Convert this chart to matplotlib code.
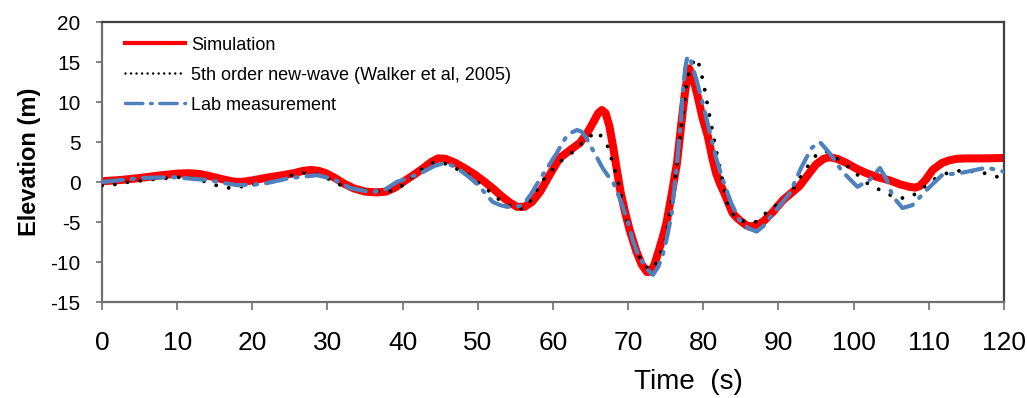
import matplotlib
matplotlib.use("Agg")
import matplotlib.pyplot as plt
from matplotlib.lines import Line2D

plt.rcParams["axes.unicode_minus"] = False

# Simulated free-surface elevation
sim_t = [0, 2.5, 5, 7.5, 10, 11.5, 13, 14.5, 16, 17.5, 18.5, 20, 22, 24, 25.5, 26.8,
         27.8, 28.8, 29.8, 31, 32.2, 33.5, 35, 36.5, 37.8, 39, 40.2, 41.5, 42.7,
         43.8, 44.7, 45.7, 47, 48.3, 49.5, 50.8, 52, 53.2, 54.3, 55.2, 56.2, 57.2,
         58.3, 59.5, 60.9, 62.3, 63.6, 64.6, 65.5, 66.0, 66.5, 67.0, 67.5, 68.0,
         68.5, 69.0, 69.6, 70.2, 71.1, 71.8, 72.5, 73.0, 73.5, 74.1, 74.6, 75.1,
         75.8, 76.5, 77.1, 77.6, 78.1, 78.6, 79.2, 79.9, 80.6, 81.2, 81.7, 82.3,
         82.8, 83.4, 83.9, 84.5, 85.0, 85.7, 86.2, 87.0, 87.9, 89.2, 90.6, 91.8,
         92.8, 94.0, 95.0, 96.0, 96.8, 97.8, 99.0, 100.3, 101.7, 103.2, 104.8,
         106.2, 107.4, 108.2, 108.8, 109.6, 110.5, 111.2, 111.8, 112.7, 113.7,
         115, 117, 120]
sim_y = [0.1, 0.25, 0.5, 0.8, 1.05, 1.1, 1.0, 0.7, 0.35, 0.05, 0.0, 0.2, 0.55, 0.85, 1.1, 1.4,
         1.5, 1.4, 1.1, 0.5, -0.2, -0.8, -1.2, -1.3, -1.2, -0.7, 0.1, 0.9, 1.7,
         2.5, 2.95, 2.9, 2.4, 1.7, 1.0, 0.1, -0.8, -1.8, -2.6, -3.1, -3.1, -2.5,
         -1.2, 0.8, 3.0, 4.0, 4.9, 6.2, 7.7, 8.6, 9.0, 8.6, 7.0, 4.4,
         1.5, -1.3, -3.8, -6.0, -8.7, -10.3, -11.25, -11.2, -10.3, -8.5, -6.9, -5.1,
         -1.5, 2.4, 7.5, 11.5, 14.2, 13.2, 10.9, 8.0, 5.7, 3.0, 1.1, -0.4,
         -1.4, -2.8, -3.9, -4.5, -4.9, -5.4, -5.6, -5.4, -5.0, -3.8, -2.25, -1.3,
         -0.5, 1.0, 2.2, 2.9, 3.1, 2.9, 2.4, 1.7, 1.1, 0.6, 0.2,
         -0.3, -0.6, -0.7, -0.5, 0.3, 1.5, 2.0, 2.4, 2.7, 2.9,
         2.95, 2.95, 3.0]

# 5th order new-wave (Walker et al, 2005)
nw_t = [0, 2.4, 3.5, 7, 10.4, 11.7, 14, 16, 17.4, 19.7, 23.3, 25.4, 27.7, 29.9, 32,
        34.3, 37.9, 39, 40, 42.7, 44, 45.2, 46.3, 48.5, 51.3, 52.9, 55.3, 56.5,
        58.7, 60.9, 62.7, 64.5, 66, 67.3, 68.5, 69.8, 71.1, 72.6, 73.2, 73.8, 74.9,
        76.2, 77.3, 77.8, 78.5, 79.2, 80.0, 80.6, 81.7, 83.3, 84.5, 86.8, 88.8,
        91.5, 93.2, 95.2, 96.4, 97.7, 99.5, 101.7, 103.9, 105.7, 107.2, 108.4,
        110.5, 112.4, 114.1, 116.3, 118.5, 120]
nw_y = [-0.45, -0.25, 0.0, 0.35, 0.6, 0.5, 0.0, -0.7, -0.75, -0.4, 0.1, 0.9, 1.25, 0.5, -0.5,
        -1.0, -1.25, -1.0, -0.4, 1.75, 2.4, 2.5, 2.0, 1.1, -1.0, -2.25, -3.5, -3.1,
        0.25, 2.5, 3.8, 5.5, 6.3, 4.4, 0.7, -4.75, -8.9, -10.75, -11.0, -10.0, -7.6,
        -0.1, 8.6, 12.75, 14.8, 15.5, 12.5, 9.4, 4.0, -3.1, -4.75, -5.1, -3.5,
        -1.6, 1.1, 3.6, 3.8, 3.0, 1.75, -0.1, -1.2, -2.0, -2.0, -1.4,
        0.25, 1.1, 1.4, 1.3, 0.9, 0.25]

# Lab measurement
lab_t = [0, 5, 9.5, 14, 18, 21.4, 25, 28.6, 30.7, 33, 35.6, 37.4, 39.2, 41, 42.7,
         44.2, 45.3, 46.5, 47.6, 49.0, 50.3, 51.2, 52, 53.0, 53.9, 55.0, 56, 57.1,
         58.2, 59.4, 60.5, 61.2, 61.8, 62.5, 63.2, 63.8, 64.5, 65.3, 66.0, 66.6,
         67.3, 68, 68.6, 69.3, 70.0, 70.6, 71.2, 71.9, 72.6, 73.3, 74.0, 74.6,
         75.2, 75.8, 76.5, 77.0, 77.3, 77.6, 77.9, 78.3, 78.7, 79.1, 80.0, 80.9,
         81.7, 82.6, 83.7, 84.8, 86.0, 87.1, 88.0, 88.8, 90.2, 91.5, 93, 94.4,
         95.5, 96.8, 98.5, 100.5, 102.1, 103.5, 104.4, 105.2, 106.5, 107.8, 109.7,
         111.8, 114.1, 117.7, 120]
lab_y = [0.0, 0.5, 0.6, 0.25, -0.4, -0.25, 0.5, 0.85, 0.4, -0.75, -1.25, -1.1, 0.0, 0.6, 1.25,
         2.0, 2.3, 2.1, 1.5, 0.5, -0.6, -1.7, -2.5, -2.9, -3.1, -3.1, -2.9, -1.5,
         0.25, 2.0, 3.6, 4.8, 5.7, 6.2, 6.5, 6.3, 5.4, 4.0, 2.8, 1.75,
         0.8, 0.0, -1.4, -3.1, -5.2, -7.25, -8.8, -10.0, -11.0, -11.6, -10.6, -9.1,
         -6.8, -3.9, 2.4, 7.5, 11.5, 14.3, 15.75, 15.3, 14.0, 12.75, 9.5, 6.1,
         3.0, 0.25, -2.6, -4.75, -5.8, -6.2, -5.5, -4.5, -2.9, -1.4, 1.75, 4.25,
         5.0, 3.6, 1.3, -0.6, 0.25, 1.75, 0.25, -1.8, -3.25, -2.9, -1.0,
         0.9, 1.1, 1.8, 1.3]

x_ticks = list(range(0, 121, 10))
y_ticks = list(range(-15, 21, 5))

RED = "#FF0000"
BLUE = "#4F81BD"
SANS = ["Liberation Sans", "DejaVu Sans"]

fig = plt.figure(figsize=(10.27, 3.98), dpi=100)
ax = fig.add_axes([0.0993, 0.2412, 0.8783, 0.7035])

ax.plot(sim_t, sim_y, color=RED, lw=5.8, solid_capstyle="round", solid_joinstyle="round", zorder=2)
ax.plot(nw_t, nw_y, color="black", lw=2.8, linestyle=(0, (0.01, 3.3)),
        dash_capstyle="round", zorder=3)
ax.plot(lab_t, lab_y, color=BLUE, lw=3.0, linestyle=(0, (5, 2.2, 0.5, 2.2)),
        dash_capstyle="round", solid_joinstyle="round", zorder=4)

ax.set_xlim(0, 120)
ax.set_ylim(-15, 20)
ax.set_xticks(x_ticks)
ax.set_yticks(y_ticks)

for side in ["top", "right"]:
    ax.spines[side].set_color("#404040")
    ax.spines[side].set_linewidth(1.6)
for side in ["left", "bottom"]:
    ax.spines[side].set_color("#6f6f6f")
    ax.spines[side].set_linewidth(1.6)

ax.tick_params(axis="y", direction="out", length=4.5, width=1.2, color="#6f6f6f",
               pad=11, labelsize=15)
ax.tick_params(axis="x", direction="out", length=6, width=1.2, color="#6f6f6f",
               pad=15, labelsize=19)
for lab in ax.get_yticklabels() + ax.get_xticklabels():
    lab.set_family(SANS)

ax.set_xlabel("Time  (s)", fontsize=20, family=SANS)
ax.xaxis.set_label_coords(0.65, -0.24)
ax.set_ylabel("Elevation (m)", fontsize=17, fontweight="bold", family=SANS)
ax.yaxis.set_label_coords(-0.068, 0.5)

handles = [
    Line2D([], [], color=RED, lw=3),
    Line2D([], [], color="black", lw=1.8, linestyle=(0, (0.01, 2.2)), dash_capstyle="round"),
    Line2D([], [], color=BLUE, lw=2.5, linestyle=(0, (5, 2.2, 0.5, 2.2)), dash_capstyle="round"),
]
labels = ["Simulation", "5th order new-wave (Walker et al, 2005)", "Lab measurement"]
ax.legend(handles, labels, loc="upper left", bbox_to_anchor=(0.0255, 0.948),
          frameon=False, borderpad=0, borderaxespad=0, handlelength=3.3,
          handletextpad=0.35, labelspacing=0.72,
          prop={"family": SANS, "size": 13})

fig.savefig("out.png", dpi=100)
